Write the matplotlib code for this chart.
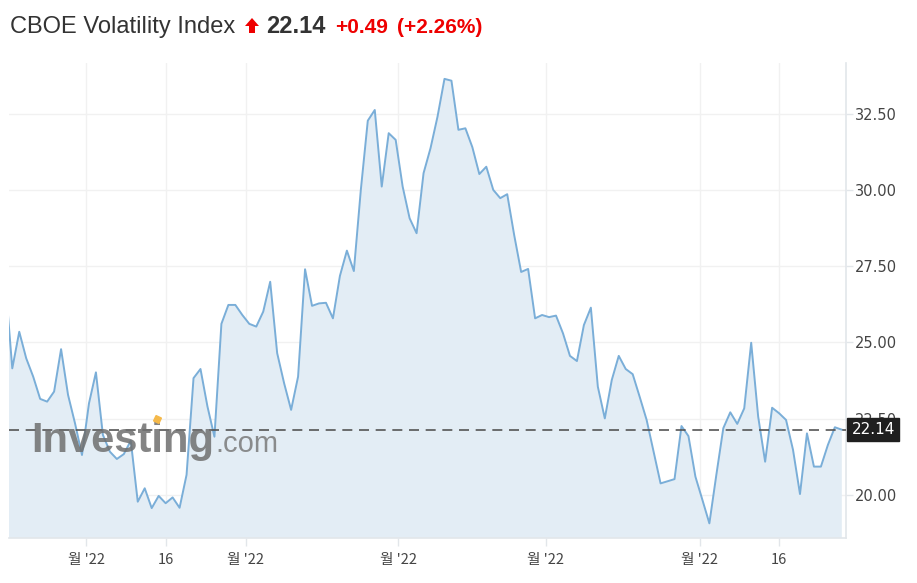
import matplotlib

matplotlib.use("Agg")
import matplotlib.pyplot as plt
import matplotlib.ticker as mticker
from matplotlib.patches import Polygon

# daily closes (first value sits just outside the left edge)
vix = [
    27.0, 24.15, 25.35, 24.48, 23.88, 23.15, 23.06, 23.39, 24.78, 23.28,
    22.35, 21.31, 23.00, 24.02, 21.97, 21.42, 21.18, 21.34, 21.78, 19.78,
    20.22, 19.57, 19.97, 19.73, 19.92, 19.58, 20.66, 23.83, 24.13, 22.90,
    21.91, 25.61, 26.23, 26.23, 25.90, 25.61, 25.52, 26.01, 26.99, 24.65,
    23.66, 22.79, 23.88, 27.40, 26.20, 26.28, 26.30, 25.79, 27.18, 28.01,
    27.34, 30.00, 32.27, 32.62, 30.11, 31.86, 31.64, 30.11, 29.07, 28.58,
    30.55, 31.37, 32.40, 33.64, 33.58, 31.97, 32.02, 31.40, 30.52, 30.76,
    30.00, 29.73, 29.86, 28.52, 27.31, 27.41, 25.79, 25.90, 25.83, 25.88,
    25.30, 24.56, 24.39, 25.57, 26.14, 23.55, 22.51, 23.77, 24.56, 24.13,
    23.96, 23.22, 22.46, 21.42, 20.38, 20.45, 20.52, 22.26, 21.93, 20.60,
    19.84, 19.07, 20.66, 22.19, 22.71, 22.33, 22.84, 24.99, 22.57, 21.09,
    22.86, 22.68, 22.46, 21.48, 20.03, 22.02, 20.93, 20.93, 21.64, 22.22,
    22.14,
]
days = list(range(len(vix)))

last_price = 22.14
change = "+0.49"
change_pct = "(+2.26%)"

x_tick_pos = [11.6, 23.1, 34.5, 56.4, 77.5, 99.6, 111.0]
x_tick_labels = ["월 '22", "16", "월 '22", "월 '22", "월 '22", "월 '22", "16"]
y_ticks = [20.0, 22.5, 25.0, 27.5, 30.0, 32.5]

LINE = "#7aaed8"
FILL = "#e3edf5"
GRID = "#f1f1f1"
SPINE = "#e2e6ea"
TEXT = "#333333"
RED = "#ee0000"

W, H = 917, 583
fig = plt.figure(figsize=(W / 100, H / 100), dpi=100)
ax = fig.add_axes([9 / W, 45 / H, 837 / W, 475 / H])

ax.fill_between(days, vix, 0, color=FILL, lw=0, zorder=1)
ax.plot(days, vix, color=LINE, lw=1.4, zorder=3)
ax.axhline(last_price, color="#555555", lw=1.2, ls=(0, (6, 4)), zorder=4)

ax.set_xlim(0.53, 120.6)
ax.set_ylim(18.59, 34.16)

ax.yaxis.tick_right()
ax.set_yticks(y_ticks)
ax.yaxis.set_major_formatter(mticker.FormatStrFormatter("%.2f"))
ax.set_xticks(x_tick_pos)
ax.set_xticklabels(x_tick_labels, family=["Noto Sans CJK KR", "DejaVu Sans"])
ax.tick_params(axis="y", length=5, width=1, color=SPINE, labelsize=10.5,
               labelcolor="#444444", pad=1.5)
ax.tick_params(axis="x", length=6, width=1, color=SPINE, labelsize=10.5,
               labelcolor="#444444", pad=5)
ax.grid(True, color=GRID, lw=1, zorder=0)
ax.set_axisbelow(True)

for side in ("top", "left"):
    ax.spines[side].set_visible(False)
for side in ("bottom", "right"):
    ax.spines[side].set_color(SPINE)
    ax.spines[side].set_linewidth(1.2)

# current price tag on the right axis
ax.annotate(f"{last_price:.2f}", xy=(1.0, last_price), xycoords=("axes fraction", "data"),
            xytext=(4, 0), textcoords="offset points", va="center", ha="left",
            color="white", fontsize=11,
            bbox=dict(boxstyle="square,pad=0.28", fc="#1f1f1f", ec="#1f1f1f"),
            zorder=6, annotation_clip=False)

# watermark
ax.text(0.026, 0.181, "Investing", transform=ax.transAxes, fontsize=30,
        fontweight="bold", color="#6f6f6f", alpha=0.85, zorder=5,
        family="Liberation Sans")
ax.text(0.247, 0.181, ".com", transform=ax.transAxes, fontsize=21,
        color="#7a7a7a", alpha=0.85, zorder=5, family="Liberation Sans")
ax.plot([0.177], [0.25], transform=ax.transAxes, marker=(4, 0, 20), ms=6,
        color="#f5b94a", zorder=6, clip_on=False)

# header
base = 1 - 33 / H
fig.text(10 / W, base, "CBOE Volatility Index", fontsize=17, color=TEXT,
         family="Liberation Sans", va="baseline")
arrow_px = [(245, 26), (252, 18), (259, 26), (255, 26), (255, 33), (249, 33), (249, 26)]
fig.patches.append(Polygon([(x / W, 1 - y / H) for x, y in arrow_px], closed=True,
                           transform=fig.transFigure, fc=RED, ec="none"))
fig.text(266 / W, base, f"{last_price:.2f}", fontsize=17, color=TEXT,
         fontweight="bold", family="Liberation Sans", va="baseline")
fig.text(335 / W, base, change, fontsize=15, color=RED,
         fontweight="bold", family="Liberation Sans", va="baseline")
fig.text(397 / W, base, change_pct, fontsize=15, color=RED,
         fontweight="bold", family="Liberation Sans", va="baseline")

fig.savefig("out.png", dpi=100)
plt.close(fig)
